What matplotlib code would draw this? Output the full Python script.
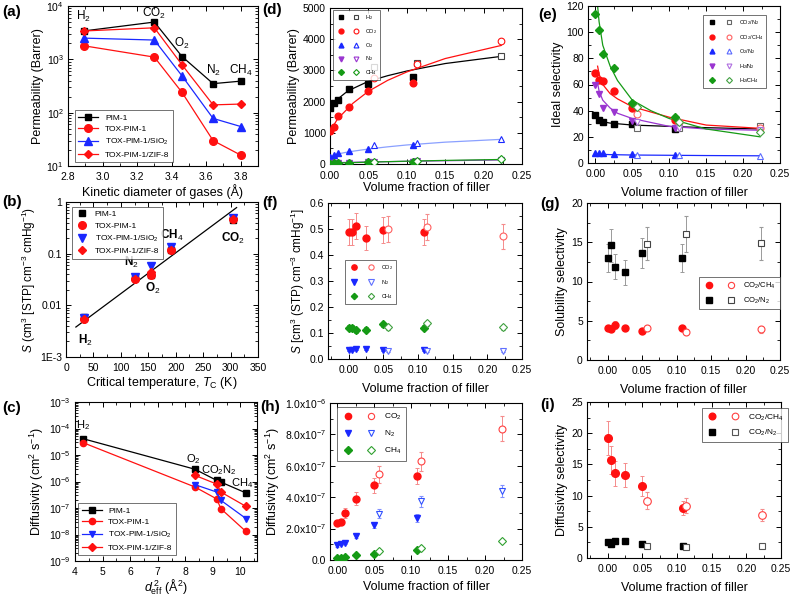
import matplotlib
matplotlib.use("Agg")
import matplotlib.pyplot as plt
from matplotlib.lines import Line2D
from matplotlib.legend_handler import HandlerTuple
from matplotlib.ticker import AutoMinorLocator, FixedLocator, FixedFormatter

plt.rcParams['font.family'] = ['Liberation Sans', 'DejaVu Sans']
plt.rcParams['mathtext.fontset'] = 'custom'
plt.rcParams['mathtext.rm'] = 'Liberation Sans'
plt.rcParams['mathtext.it'] = 'Liberation Sans:italic'
plt.rcParams['mathtext.bf'] = 'Liberation Sans:bold'

# ---------------- data ----------------
# (a) permeability vs kinetic diameter (H2, CO2, O2, N2, CH4)
kin_diam = [2.89, 3.30, 3.46, 3.64, 3.80]
perm_pim1 = [3400, 5000, 1130, 350, 390]
perm_tox = [1800, 1100, 240, 30, 16]
perm_sio2 = [2500, 2300, 490, 78, 55]
perm_zif = [3400, 3900, 790, 140, 145]

# (b) solubility vs critical temperature (H2, N2, O2, CH4, CO2)
tc = [33.2, 126.2, 154.6, 190.6, 304.2]
sol_pim1 = [0.0060, 0.034, 0.038, 0.12, 0.45]
sol_tox = [0.0055, 0.032, 0.038, 0.12, 0.46]
sol_sio2 = [0.0057, 0.036, 0.058, 0.135, 0.49]
sol_zif = [0.0055, 0.032, 0.045, 0.12, 0.46]
fit_tc = [18, 311]
fit_s = [0.0038, 0.78]

# (c) diffusivity vs d_eff^2 (H2, O2, CO2, N2, CH4)
d2 = [4.3, 8.35, 9.14, 9.29, 10.2]
diff_pim1 = [4.1e-5, 2.9e-6, 1.1e-6, 9.5e-7, 3.7e-7]
diff_tox = [2.9e-5, 6.2e-7, 2.2e-7, 9.4e-8, 1.3e-8]
diff_sio2 = [7.6e-7, 4.0e-7, 1.95e-7, 4.0e-8]      # O2, CO2, N2, CH4
diff_zif = [1.7e-6, 8.0e-7, 4.0e-7, 1.15e-7]

# volume fractions of filler: filled (SiO2) and open (ZIF-8) symbols
vf_fill = [0.0, 0.005, 0.01, 0.025, 0.05, 0.108]
vf_open = [0.057, 0.113, 0.223]

# (d) permeability vs volume fraction
pd_h2 = [1800, 1950, 2050, 2400, 2550, 2800];   po_h2 = [3100, 3230, 3450]
pd_co2 = [1050, 1200, 1550, 1820, 2350, 2600];  po_co2 = [2750, 3200, 3950]
pd_o2 = [230, 280, 350, 420, 490, 600];         po_o2 = [600, 670, 790]
pd_n2 = [30, 35, 40, 45, 50, 80];               po_n2 = [70, 90, 130]
pd_ch4 = [16, 25, 30, 40, 60, 80];              po_ch4 = [75, 100, 145]
vf_curve = [0.001, 0.005, 0.01, 0.02, 0.03, 0.05, 0.075, 0.1, 0.15, 0.223]
h2_curve = [1780, 1950, 2080, 2280, 2420, 2650, 2830, 2980, 3220, 3450]
co2_curve = [1000, 1250, 1450, 1700, 1950, 2330, 2680, 2950, 3380, 3800]
o2_curve = [250, 290, 320, 370, 410, 480, 550, 610, 700, 790]
n2_curve = [35, 40, 45, 50, 55, 65, 75, 85, 105, 130]
ch4_curve = [20, 25, 30, 40, 45, 60, 75, 90, 115, 145]

# (e) ideal selectivity
se_co2n2 = [36.5, 33, 31.5, 29.5, 30, 26];      so_co2n2 = [27, 27, 28]
se_co2ch4 = [69, 63.5, 62.5, 55, 42, 33];       so_co2ch4 = [37.5, 31, 26.5]
se_o2n2 = [8, 7.5, 7.5, 7, 6.5, 6];             so_o2n2 = [6, 6, 5.5]
se_h2n2 = [60, 53, 42, 39, 32, 27];             so_h2n2 = [31, 27, 25]
se_h2ch4 = [114, 102, 83, 72.5, 46, 35];        so_h2ch4 = [43, 31, 24]
vf_curve_e = [0.003, 0.005, 0.01, 0.02, 0.03, 0.05, 0.075, 0.1, 0.15, 0.223]
co2n2_curve = [35, 33, 31.5, 30.5, 30, 29, 28.5, 28, 27, 26]
co2ch4_curve = [74, 68, 60, 53, 49, 43, 39, 35, 29, 26.5]
o2n2_curve = [7, 6.8, 6.6, 6.4, 6.3, 6.1, 6, 5.9, 5.7, 5.5]
h2n2_curve = [61, 55, 48, 42, 38, 34, 31, 28, 26, 25]
h2ch4_curve = [120, 108, 90, 74, 63, 48, 40, 34, 26, 20]

# (f) solubility vs volume fraction
sf_co2 = [0.49, 0.49, 0.51, 0.465, 0.495, 0.49];  sfo_co2 = [0.50, 0.507, 0.472]
sf_n2 = [0.035, 0.033, 0.040, 0.040, 0.035, 0.035]; sfo_n2 = [0.030, 0.030, 0.030]
sf_ch4 = [0.12, 0.12, 0.11, 0.112, 0.133, 0.12];  sfo_ch4 = [0.122, 0.138, 0.122]
ef_co2 = [0.05, 0.05, 0.05, 0.047, 0.05, 0.05];   efo_co2 = [0.05, 0.05, 0.048]
ef_n2 = [0.004] * 6;                             efo_n2 = [0.003] * 3
ef_ch4 = [0.01] * 6;                             efo_ch4 = [0.01] * 3

# (g) solubility selectivity
sg_co2n2 = [13, 14.6, 11.9, 11.2, 13.6, 13];      sgo_co2n2 = [14.8, 16.1, 14.9]
eg_co2n2 = [1.8, 2.1, 1.6, 1.6, 1.9, 1.8];        ego_co2n2 = [2.1, 2.3, 2.1]
sg_co2ch4 = [4.1, 4.0, 4.5, 4.1, 3.7, 4.1];       sgo_co2ch4 = [4.1, 3.6, 3.9]
eg_co2ch4 = [0.4, 0.4, 0.5, 0.4, 0.4, 0.4];       ego_co2ch4 = [0.4, 0.4, 0.4]

# (h) diffusivity vs volume fraction
dh_co2 = [2.35e-7, 2.45e-7, 3.0e-7, 3.9e-7, 4.75e-7, 5.35e-7]; dho_co2 = [5.45e-7, 6.3e-7, 8.35e-7]
eh_co2 = [0.15e-7, 0.15e-7, 0.3e-7, 0.4e-7, 0.5e-7, 0.5e-7];   eho_co2 = [0.55e-7, 0.6e-7, 0.8e-7]
dh_n2 = [0.95e-7, 1.05e-7, 1.1e-7, 1.5e-7, 2.2e-7, 2.7e-7];    dho_n2 = [2.95e-7, 3.75e-7, 4.4e-7]
eh_n2 = [0.1e-7, 0.1e-7, 0.1e-7, 0.1e-7, 0.15e-7, 0.25e-7];    eho_n2 = [0.3e-7, 0.35e-7, 0.4e-7]
dh_ch4 = [0.1e-7, 0.12e-7, 0.2e-7, 0.3e-7, 0.4e-7, 0.65e-7];   dho_ch4 = [0.6e-7, 0.75e-7, 1.2e-7]
h_ticks = [0, 2e-7, 4e-7, 6e-7, 8e-7, 1e-6]
h_ticklabels = ['0.0', '2.0x10$^{-7}$', '4.0x10$^{-7}$', '6.0x10$^{-7}$',
                '8.0x10$^{-7}$', '1.0x10$^{-6}$']

# (i) diffusivity selectivity
di_co2ch4 = [19.2, 15.7, 13.6, 13.3, 11.5, 8.0];  dio_co2ch4 = [9.2, 8.4, 6.9]
ei_co2ch4 = [2.7, 2.2, 2.0, 1.9, 1.6, 1.1];        eio_co2ch4 = [1.3, 1.2, 1.0]
di_co2n2 = [2.6, 2.3, 2.7, 2.7, 2.2, 2.0];         dio_co2n2 = [1.9, 1.7, 1.9]
ei_co2n2 = [0.3] * 6;                              eio_co2n2 = [0.2] * 3

# ---------------- figure ----------------
W, H = 792, 597
fig = plt.figure(figsize=(W / 100, H / 100), dpi=100)

RED = '#ff1010'
LRED = '#f58c8c'
BLUE = '#1a28ff'
GREEN = '#159a15'
PURPLE = '#9a35d0'
GREY = '#9a9a9a'


def add_ax(x0, x1, y0, y1):
    return fig.add_axes([x0 / W, 1 - y1 / H, (x1 - x0) / W, (y1 - y0) / H])


def style(ax, logy=False):
    ax.tick_params(which='both', direction='in', top=True, right=True, labelsize=7.5, pad=3)
    ax.tick_params(axis='x', which='major', pad=4)
    ax.tick_params(which='major', length=3.5, width=0.7)
    ax.tick_params(which='minor', length=2, width=0.6)
    for s in ax.spines.values():
        s.set_linewidth(0.8)
    ax.xaxis.set_minor_locator(AutoMinorLocator(2))
    if not logy:
        ax.yaxis.set_minor_locator(AutoMinorLocator(2))


def legbox(leg):
    fr = leg.get_frame()
    fr.set_edgecolor('#333333')
    fr.set_linewidth(0.6)


def pair(color, marker, ms, ocolor=None):
    f = Line2D([], [], ls='none', marker=marker, color=color, mfc=color, mec=color, ms=ms)
    o = Line2D([], [], ls='none', marker=marker, color=ocolor or color, mfc='white',
               mec=ocolor or color, ms=ms, mew=0.8)
    return (f, o)


def pts(ax, y_f, y_o, color, marker, ms, err_f=None, err_o=None, ecolor=None, ocolor=None):
    ax.errorbar(vf_fill, y_f, yerr=err_f, fmt=marker, color=color, mfc=color, mec=color,
                ms=ms, ecolor=ecolor or color, elinewidth=0.7, capsize=1.5, capthick=0.7, zorder=3)
    oc = ocolor or color
    ax.errorbar(vf_open, y_o, yerr=err_o, fmt=marker, color=oc, mfc='white', mec=oc,
                ms=ms, mew=0.8, ecolor=ecolor or oc, elinewidth=0.7, capsize=1.5,
                capthick=0.7, zorder=3)


def panel_label(x, y, s):
    fig.text(x / W, 1 - y / H, s, fontsize=11, fontweight='bold', va='center', ha='left')


vf_label = 'Volume fraction of filler'

# ---- (a)
ax = add_ax(68, 258, 6, 166)
ax.set_yscale('log')
ax.plot(kin_diam, perm_pim1, '-s', color='black', ms=5, lw=0.9, label='PIM-1')
ax.plot(kin_diam, perm_tox, '-o', color=RED, ms=5.5, lw=0.9, label='TOX-PIM-1')
ax.plot(kin_diam, perm_sio2, '-^', color=BLUE, ms=5.5, lw=0.9, label='TOX-PIM-1/SiO$_2$')
ax.plot(kin_diam, perm_zif, '-D', color=RED, ms=4.5, lw=0.9, label='TOX-PIM-1/ZIF-8')
ax.set_xlim(2.8, 3.9)
ax.set_ylim(10, 1e4)
ax.set_xticks([2.8, 3.0, 3.2, 3.4, 3.6, 3.8])
style(ax, logy=True)
ax.set_xlabel('Kinetic diameter of gases (Å)', fontsize=9, labelpad=2)
ax.set_ylabel('Permeability (Barrer)', fontsize=9, labelpad=2)
for x, y, s in [(2.89, 6300, 'H$_2$'), (3.30, 7200, 'CO$_2$'), (3.46, 2000, 'O$_2$'),
                (3.64, 620, 'N$_2$'), (3.80, 620, 'CH$_4$')]:
    ax.text(x, y, s, fontsize=8.5, ha='center', va='center')
leg = ax.legend(loc='upper left', bbox_to_anchor=(0.035, 0.35), fontsize=6, fancybox=False,
                handlelength=2.4, borderpad=0.45, labelspacing=0.45, borderaxespad=0)
legbox(leg)

# ---- (b)
ax = add_ax(66, 258, 202, 357)
ax.set_yscale('log')
ax.plot(fit_tc, fit_s, '-', color='black', lw=0.9)
ax.plot(tc, sol_pim1, 's', color='black', ms=5, label='PIM-1')
ax.plot(tc, sol_tox, 'o', color=RED, ms=5.5, label='TOX-PIM-1')
ax.plot(tc, sol_sio2, 'v', color=BLUE, ms=5.5, label='TOX-PIM-1/SiO$_2$')
ax.plot(tc, sol_zif, 'D', color=RED, ms=4.5, label='TOX-PIM-1/ZIF-8')
ax.set_xlim(0, 350)
ax.set_ylim(1e-3, 1)
ax.set_xticks(range(0, 351, 50))
style(ax, logy=True)
ax.yaxis.set_major_locator(FixedLocator([1e-3, 1e-2, 0.1, 1]))
ax.yaxis.set_major_formatter(FixedFormatter(['1E-3', '0.01', '0.1', '1']))
ax.set_xlabel('Critical temperature, $T_{\\rm C}$ (K)', fontsize=9, labelpad=2)
ax.set_ylabel('$S$ (cm$^3$ [STP] cm$^{-3}$ cmHg$^{-1}$)', fontsize=8.5, labelpad=1)
for x, y, s in [(36, 0.0021, 'H$_2$'), (120, 0.068, 'N$_2$'), (158, 0.021, 'O$_2$'),
                (193, 0.23, 'CH$_4$'), (305, 0.2, 'CO$_2$')]:
    ax.text(x, y, s, fontsize=8.5, ha='center', va='center', fontweight='bold')
leg = ax.legend(loc='upper left', bbox_to_anchor=(0.03, 0.97), fontsize=6, fancybox=False,
                handlelength=1.5, borderpad=0.45, labelspacing=0.45, borderaxespad=0)
legbox(leg)

# ---- (c)
ax = add_ax(75, 257, 402, 561)
ax.set_yscale('log')
ax.plot(d2, diff_pim1, '-s', color='black', ms=4, lw=0.9, label='PIM-1')
ax.plot(d2, diff_tox, '-o', color=RED, ms=4.5, lw=0.9, label='TOX-PIM-1')
ax.plot(d2[1:], diff_sio2, '-v', color=BLUE, ms=4.5, lw=0.9, label='TOX-PIM-1/SiO$_2$')
ax.plot(d2[1:], diff_zif, '-D', color=RED, ms=4, lw=0.9, label='TOX-PIM-1/ZIF-8')
ax.set_xlim(4, 10.6)
ax.set_ylim(1e-9, 1e-3)
ax.set_xticks(range(4, 11))
style(ax, logy=True)
ax.set_xlabel('$d_{\\rm eff}^{\\,2}$ (Å$^2$)', fontsize=9, labelpad=1)
ax.set_ylabel('Diffusivity (cm$^2$ s$^{-1}$)', fontsize=9, labelpad=2)
for x, y, s in [(4.3, 1.3e-4, 'H$_2$'), (8.3, 7e-6, 'O$_2$'), (9.2, 2.6e-6, 'CO$_2$N$_2$'),
                (10.05, 9e-7, 'CH$_4$')]:
    ax.text(x, y, s, fontsize=8, ha='center', va='center')
leg = ax.legend(loc='upper left', bbox_to_anchor=(0.016, 0.365), fontsize=6, fancybox=False,
                handlelength=2.4, borderpad=0.45, labelspacing=0.45, borderaxespad=0)
legbox(leg)

# ---- (d)
ax = add_ax(330, 522, 8, 164)
ax.plot(vf_curve, h2_curve, '-', color='black', lw=0.9)
ax.plot(vf_curve, co2_curve, '-', color=RED, lw=0.9)
ax.plot(vf_curve, o2_curve, '-', color='#8aa0ff', lw=0.9)
ax.plot(vf_curve, n2_curve, '-', color=PURPLE, lw=0.9)
ax.plot(vf_curve, ch4_curve, '-', color=GREEN, lw=0.9)
pts(ax, pd_h2, po_h2, 'black', 's', 4.5, err_f=[100, 0, 0, 0, 0, 0], ocolor='#444444')
pts(ax, pd_co2, po_co2, RED, 'o', 4.8, err_f=[100, 0, 0, 0, 0, 0])
pts(ax, pd_o2, po_o2, BLUE, '^', 5)
pts(ax, pd_n2, po_n2, PURPLE, 'v', 5)
pts(ax, pd_ch4, po_ch4, GREEN, 'D', 4)
ax.set_xlim(0, 0.25)
ax.set_ylim(0, 5000)
ax.set_xticks([0, 0.05, 0.1, 0.15, 0.2, 0.25])
ax.set_xticklabels(['0.00', '0.05', '0.10', '0.15', '0.20', '0.25'])
style(ax)
ax.tick_params(axis='x', which='major', pad=5)
ax.set_xlabel(vf_label, fontsize=9, labelpad=1)
ax.set_ylabel('Permeability (Barrer)', fontsize=9, labelpad=2)
leg = ax.legend(handles=[pair('black', 's', 3.5, '#444444'), pair(RED, 'o', 3.5), pair(BLUE, '^', 3.5),
                         pair(PURPLE, 'v', 3.5), pair(GREEN, 'D', 3)],
                labels=['H$_2$', 'CO$_2$', 'O$_2$', 'N$_2$', 'CH$_4$'],
                handler_map={tuple: HandlerTuple(ndivide=None, pad=0.8)},
                loc='upper left', bbox_to_anchor=(0.016, 0.987), fontsize=4, fancybox=False,
                handlelength=4.5, borderpad=0.5, labelspacing=0.9, borderaxespad=0)
legbox(leg)

# ---- (e)
ax = add_ax(588, 780, 6, 163)
ax.plot(vf_curve_e, co2n2_curve, '-', color='black', lw=0.9)
ax.plot(vf_curve_e, co2ch4_curve, '-', color=RED, lw=0.9)
ax.plot(vf_curve_e, o2n2_curve, '-', color=BLUE, lw=0.9)
ax.plot(vf_curve_e, h2n2_curve, '-', color=PURPLE, lw=0.9)
ax.plot(vf_curve_e, h2ch4_curve, '-', color=GREEN, lw=0.9)
pts(ax, se_co2n2, so_co2n2, 'black', 's', 4.5, ocolor='#666666')
pts(ax, se_co2ch4, so_co2ch4, RED, 'o', 5, ocolor='#ff6060')
pts(ax, se_o2n2, so_o2n2, BLUE, '^', 5, ocolor='#5a6aff')
pts(ax, se_h2n2, so_h2n2, PURPLE, 'v', 5, ocolor='#b070e0')
pts(ax, se_h2ch4, so_h2ch4, GREEN, 'D', 4.2, ocolor='#40a040')
ax.set_xlim(-0.01, 0.25)
ax.set_ylim(0, 120)
ax.set_xticks([0, 0.05, 0.1, 0.15, 0.2, 0.25])
ax.set_xticklabels(['0.00', '0.05', '0.10', '0.15', '0.20', '0.25'])
ax.set_yticks(range(0, 121, 20))
style(ax)
ax.set_xlabel(vf_label, fontsize=9, labelpad=6)
ax.set_ylabel('Ideal selectivity', fontsize=9, labelpad=2)
leg = ax.legend(handles=[pair('black', 's', 3.5, '#666666'), pair(RED, 'o', 3.5, '#ff6060'),
                         pair(BLUE, '^', 3.5, '#5a6aff'), pair(PURPLE, 'v', 3.5, '#b070e0'),
                         pair(GREEN, 'D', 3, '#40a040')],
                labels=['CO$_2$/N$_2$', 'CO$_2$/CH$_4$', 'O$_2$/N$_2$', 'H$_2$/N$_2$', 'H$_2$/CH$_4$'],
                handler_map={tuple: HandlerTuple(ndivide=None, pad=1.2)},
                loc='upper left', bbox_to_anchor=(0.6, 0.943), fontsize=4, fancybox=False,
                handlelength=5, borderpad=0.6, labelspacing=1.0, borderaxespad=0)
legbox(leg)

# ---- (f)
ax = add_ax(328, 522, 203, 359)
pts(ax, sf_co2, sfo_co2, RED, 'o', 5, ef_co2, efo_co2, ecolor=LRED, ocolor='#ff6060')
pts(ax, sf_n2, sfo_n2, BLUE, 'v', 5, ef_n2, efo_n2, ocolor='#6070ff')
pts(ax, sf_ch4, sfo_ch4, GREEN, 'D', 4.2, ef_ch4, efo_ch4, ocolor='#40a040')
ax.set_xlim(-0.03, 0.25)
ax.set_ylim(0, 0.6)
ax.set_xticks([0, 0.05, 0.1, 0.15, 0.2, 0.25])
ax.set_xticklabels(['0.00', '0.05', '0.10', '0.15', '0.20', '0.25'])
ax.set_yticks([0, 0.1, 0.2, 0.3, 0.4, 0.5, 0.6])
ax.set_yticklabels(['0.0', '0.1', '0.2', '0.3', '0.4', '0.5', '0.6'])
style(ax)
ax.set_xlabel(vf_label, fontsize=9, labelpad=6)
ax.set_ylabel('$S$ [cm$^3$ (STP) cm$^{-3}$ cmHg$^{-1}$]', fontsize=8.5, labelpad=2)
leg = ax.legend(handles=[pair(RED, 'o', 3.8, '#ff6060'), pair(BLUE, 'v', 3.8, '#6070ff'),
                         pair(GREEN, 'D', 3.2, '#40a040')],
                labels=['CO$_2$', 'N$_2$', 'CH$_4$'],
                handler_map={tuple: HandlerTuple(ndivide=None, pad=1.0)},
                loc='upper left', bbox_to_anchor=(0.088, 0.635), fontsize=4, fancybox=False,
                handlelength=5, borderpad=0.6, labelspacing=1.0, borderaxespad=0)
legbox(leg)

# ---- (g)
ax = add_ax(587, 780, 203, 360)
pts(ax, sg_co2n2, sgo_co2n2, 'black', 's', 5, eg_co2n2, ego_co2n2, ecolor=GREY, ocolor='#444444')
pts(ax, sg_co2ch4, sgo_co2ch4, RED, 'o', 5, eg_co2ch4, ego_co2ch4, ecolor=LRED, ocolor='#ff4040')
ax.set_xlim(-0.03, 0.25)
ax.set_ylim(0, 20)
ax.set_xticks([0, 0.05, 0.1, 0.15, 0.2, 0.25])
ax.set_xticklabels(['0.00', '0.05', '0.10', '0.15', '0.20', '0.25'])
ax.set_yticks([0, 5, 10, 15, 20])
style(ax)
ax.set_xlabel(vf_label, fontsize=9, labelpad=6)
ax.set_ylabel('Solubility selectivity', fontsize=9, labelpad=2)
leg = ax.legend(handles=[pair(RED, 'o', 4.5, '#ff4040'), pair('black', 's', 4.5, '#444444')],
                labels=['CO$_2$/CH$_4$', 'CO$_2$/N$_2$'],
                handler_map={tuple: HandlerTuple(ndivide=None, pad=1.2)},
                loc='upper left', bbox_to_anchor=(0.58, 0.53), fontsize=5.5, fancybox=False,
                handlelength=4.5, borderpad=0.5, labelspacing=0.6, borderaxespad=0)
legbox(leg)

# ---- (h)
ax = add_ax(330, 522, 403, 560)
pts(ax, dh_co2, dho_co2, RED, 'o', 5, eh_co2, eho_co2, ecolor=LRED, ocolor='#ff4040')
pts(ax, dh_n2, dho_n2, BLUE, 'v', 5, eh_n2, eho_n2, ecolor='#8090ff', ocolor='#3050ff')
pts(ax, dh_ch4, dho_ch4, GREEN, 'D', 4.2, ocolor='#30a030')
ax.set_xlim(-0.01, 0.25)
ax.set_ylim(0, 1e-6)
ax.set_xticks([0, 0.05, 0.1, 0.15, 0.2, 0.25])
ax.set_xticklabels(['0.00', '0.05', '0.10', '0.15', '0.20', '0.25'])
style(ax)
ax.yaxis.set_major_locator(FixedLocator(h_ticks))
ax.yaxis.set_major_formatter(FixedFormatter(h_ticklabels))
ax.set_xlabel(vf_label, fontsize=9, labelpad=4)
ax.set_ylabel('Diffusivity (cm$^2$ s$^{-1}$)', fontsize=9, labelpad=2)
leg = ax.legend(handles=[pair(RED, 'o', 4.5, '#ff4040'), pair(BLUE, 'v', 4.5, '#3050ff'),
                         pair(GREEN, 'D', 4, '#30a030')],
                labels=['CO$_2$', 'N$_2$', 'CH$_4$'],
                handler_map={tuple: HandlerTuple(ndivide=None, pad=1.2)},
                loc='upper left', bbox_to_anchor=(0.036, 0.975), fontsize=6, fancybox=False,
                handlelength=4.2, borderpad=0.6, labelspacing=0.8, borderaxespad=0)
legbox(leg)

# ---- (i)
ax = add_ax(587, 781, 402, 558)
pts(ax, di_co2ch4, dio_co2ch4, RED, 'o', 5.5, ei_co2ch4, eio_co2ch4, ecolor=LRED, ocolor='#ff4040')
pts(ax, di_co2n2, dio_co2n2, 'black', 's', 4.8, ei_co2n2, eio_co2n2, ecolor=GREY, ocolor='#555555')
ax.set_xlim(-0.03, 0.25)
ax.set_ylim(0, 25)
ax.set_xticks([0, 0.05, 0.1, 0.15, 0.2, 0.25])
ax.set_xticklabels(['0.00', '0.05', '0.10', '0.15', '0.20', '0.25'])
ax.set_yticks([0, 5, 10, 15, 20, 25])
style(ax)
ax.set_xlabel(vf_label, fontsize=9, labelpad=6)
ax.set_ylabel('Diffusivity selectivity', fontsize=9, labelpad=2)
leg = ax.legend(handles=[pair(RED, 'o', 4.8, '#ff4040'), pair('black', 's', 4.5, '#555555')],
                labels=['CO$_2$/CH$_4$', 'CO$_2$/N$_2$'],
                handler_map={tuple: HandlerTuple(ndivide=None, pad=1.2)},
                loc='upper left', bbox_to_anchor=(0.593, 0.96), fontsize=6, fancybox=False,
                handlelength=4.2, borderpad=0.5, labelspacing=0.6, borderaxespad=0)
legbox(leg)

for x, y, s in [(2, 12, '(a)'), (262, 10, '(d)'), (538, 15, '(e)'),
                (2, 202, '(b)'), (262, 203, '(f)'), (540, 204, '(g)'),
                (2, 408, '(c)'), (260, 407, '(h)'), (540, 405, '(i)')]:
    panel_label(x, y, s)

fig.savefig('out.png', dpi=100)
